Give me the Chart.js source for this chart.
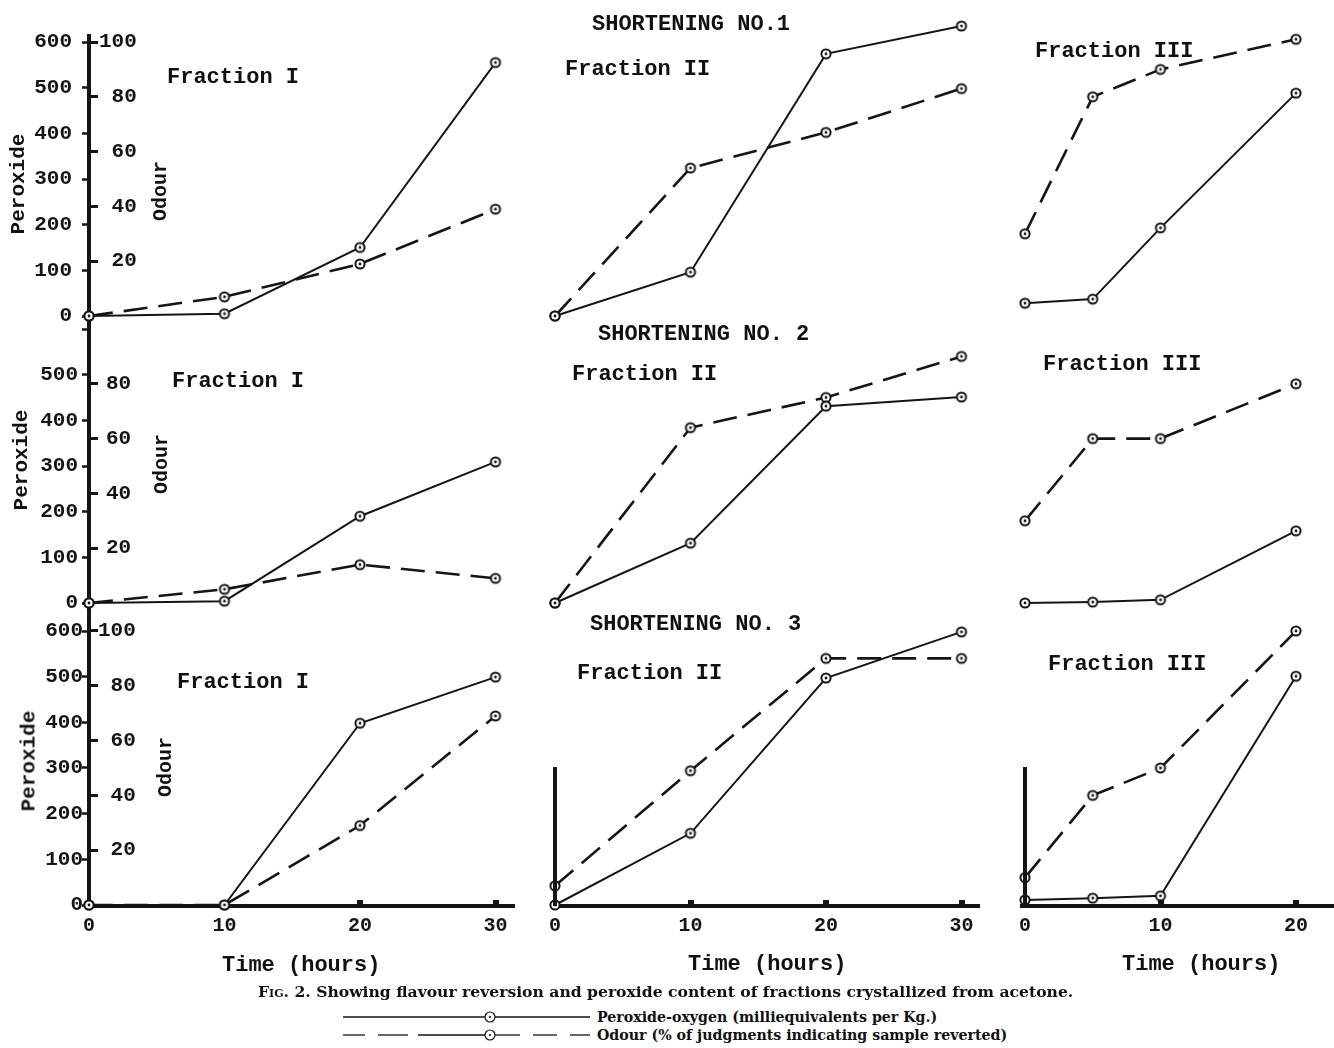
<!DOCTYPE html>
<html><head><meta charset="utf-8">
<script src="https://cdn.jsdelivr.net/npm/chart.js@4.4.0/dist/chart.umd.min.js"></script>
<style>
html,body{margin:0;padding:0;background:#fff;overflow:hidden;width:1334px;height:1048px}
#root{position:relative;width:1334px;height:1048px;background:#fff}
canvas{position:absolute}
.t{position:absolute;white-space:nowrap;font-family:'Liberation Mono',monospace;font-weight:bold;color:#111;line-height:1;transform:translateY(-50%)}
.r{transform:translate(-50%,-50%) rotate(-90deg)}
.cap{position:absolute;white-space:nowrap;font-family:'DejaVu Serif',serif;font-weight:bold;color:#111;line-height:1;transform:translateY(-50%)}
svg{position:absolute}
</style></head>
<body><div id="root"></div>
<script>
// ---------- data ----------
const shorteningTitles = ['SHORTENING NO.1', 'SHORTENING NO. 2', 'SHORTENING NO. 3'];
const fractionTitles = ['Fraction I', 'Fraction II', 'Fraction III'];
const hoursFrac12 = [0, 10, 20, 30];
const hoursFrac3 = [0, 5, 10, 20];
const peroxideTicks = [0, 100, 200, 300, 400, 500, 600];
const odourTicksRow1 = [20, 40, 60, 80, 100];
const odourTicksRow2 = [20, 40, 60, 80];
const odourTicksRow3 = [20, 40, 60, 80, 100];
const timeTicks12 = [0, 10, 20, 30];
const timeTicks3 = [0, 10, 20];

const s1F1Peroxide = [0, 5, 150, 555];
const s1F1Odour    = [0, 7, 19, 39];
const s1F2Peroxide = [0, 96, 574, 635];
const s1F2Odour    = [0, 54, 67, 83];
const s1F3Peroxide = [28, 37, 193, 488];
const s1F3Odour    = [30, 80, 90, 101];

const s2F1Peroxide = [0, 4, 190, 309];
const s2F1Odour    = [0, 5, 14, 9];
const s2F2Peroxide = [0, 131, 431, 451];
const s2F2Odour    = [0, 64, 75, 90];
const s2F3Peroxide = [0, 2, 7, 158];
const s2F3Odour    = [30, 60, 60, 80];

const s3F1Peroxide = [0, 0, 398, 499];
const s3F1Odour    = [0, 0, 29, 69];
const s3F2Peroxide = [0, 157, 497, 598];
const s3F2Odour    = [7, 49, 90, 90];
const s3F3Peroxide = [11, 15, 20, 501];
const s3F3Odour    = [10, 40, 50, 100];

const captionText = 'Showing flavour reversion and peroxide content of fractions crystallized from acetone.';
const legendPeroxide = 'Peroxide-oxygen (milliequivalents per Kg.)';
const legendOdour = 'Odour (% of judgments indicating sample reverted)';

// ---------- layout ----------
const root = document.getElementById('root');
const PPU = 274 / 600;     // px per peroxide unit
const PPH = 13.55;         // px per hour
const INK = '#151515';

const dot = document.createElement('canvas');
dot.width = dot.height = 14;
(function(){
  const c = dot.getContext('2d');
  c.fillStyle = '#fff'; c.beginPath(); c.arc(7,7,4.6,0,Math.PI*2); c.fill();
  c.lineWidth = 2; c.strokeStyle = INK; c.stroke();
  c.fillStyle = INK; c.beginPath(); c.arc(7,7,1.4,0,Math.PI*2); c.fill();
})();

const monoFont = (size) => ({family: "'Liberation Mono', monospace", weight: 'bold', size});

function makeCanvas(cl, ct, w, h) {
  const cv = document.createElement('canvas');
  cv.width = w; cv.height = h;
  cv.style.left = cl + 'px'; cv.style.top = ct + 'px';
  cv.style.width = w + 'px'; cv.style.height = h + 'px';
  root.appendChild(cv);
  return cv;
}

function panel(p) {
  const padLeft = p.padLeft || 0;
  const cl = p.L - p.leftW - padLeft, ct = p.T - p.padTop;
  const w = p.R - cl, h = p.B + p.bottomH - ct;
  const cv = makeCanvas(cl, ct, w, h);
  const yMin = (p.zero - p.B) / PPU, yMax = (p.zero - p.T) / PPU;
  const xMin = (p.L - p.x0) / PPH, xMax = (p.R - p.x0) / PPH;
  const full = p.yAxis === 'full';
  const mk = (arr) => p.times.map((t, i) => ({x: t, y: arr[i]}));
  new Chart(cv, {
    type: 'line',
    data: {datasets: [
      {label: 'Peroxide', data: mk(p.perox), yAxisID: 'y', borderColor: INK, borderWidth: 2,
       pointStyle: dot, pointRadius: 6, tension: 0, fill: false, clip: false},
      {label: 'Odour', data: mk(p.odour), yAxisID: 'y2', borderColor: INK, borderWidth: 2.6,
       borderDash: [24, 11], pointStyle: dot, pointRadius: 6, tension: 0, fill: false, clip: false}
    ]},
    options: {
      responsive: false, animation: false,
      layout: {autoPadding: false, padding: {top: p.padTop, left: padLeft, right: 0, bottom: 0}},
      plugins: {legend: {display: false}, tooltip: {enabled: false}},
      events: [],
      scales: {
        x: {type: 'linear', min: xMin, max: xMax, display: !!p.xAxis,
          afterFit(s){ s.height = p.bottomH; s.paddingLeft = 0; s.paddingRight = 0; },
          afterBuildTicks(s){ s.ticks = p.xTicks.map(v => ({value: v})); },
          border: {display: true, color: INK, width: 4},
          grid: {drawOnChartArea: false, drawTicks: true, tickLength: -6, color: INK, tickColor: INK, tickWidth: 6, lineWidth: 6},
          ticks: {color: INK, font: monoFont(20), padding: 14, maxRotation: 0, autoSkip: false}
        },
        y: {type: 'linear', position: 'left', weight: 0, min: yMin, max: yMax, display: full,
          afterFit(s){ s.width = p.leftW; s.paddingTop = 0; s.paddingBottom = 0; },
          afterBuildTicks(s){ s.ticks = peroxideTicks.map(v => ({value: v})); },
          border: {display: true, color: INK, width: 4},
          grid: {drawOnChartArea: false, drawTicks: true, tickLength: 7, color: INK, tickColor: INK, tickWidth: 2.5},
          ticks: {padding: p.perPad || 0, color: INK, font: monoFont(21),
            callback: v => (p.hide600 && v === 600) ? '' : String(v)}
        },
        y2: {type: 'linear', position: 'left', weight: -1, min: yMin / 6, max: yMax / 6, display: full,
          afterFit(s){ s.width = 0; s.paddingTop = 0; s.paddingBottom = 0; },
          afterBuildTicks(s){ if (p.odTicks) s.ticks = p.odTicks.map(v => ({value: v})); },
          border: {display: false},
          grid: {drawOnChartArea: false, drawTicks: true, tickLength: -9, color: INK, tickColor: INK, tickWidth: 3},
          ticks: {mirror: true, crossAlign: 'far', padding: p.odPad || 0, color: INK, font: monoFont(21)}
        }
      }
    }
  });
}

// short vertical axis line (no labels) for Fractions II and III of Shortening No. 3
function stubAxis(L, T, B, zero) {
  const leftW = 10;
  const cv = makeCanvas(L - leftW, T, leftW + 10, B - T);
  new Chart(cv, {
    type: 'line',
    data: {datasets: []},
    options: {
      responsive: false, animation: false,
      layout: {autoPadding: false, padding: 0},
      plugins: {legend: {display: false}, tooltip: {enabled: false}},
      events: [],
      scales: {
        x: {type: 'linear', display: false, min: 0, max: 1},
        y: {type: 'linear', position: 'left', min: (zero - B) / PPU, max: (zero - T) / PPU, display: true,
          afterFit(s){ s.width = leftW; s.paddingTop = 0; s.paddingBottom = 0; },
          border: {display: true, color: INK, width: 4},
          grid: {drawOnChartArea: false, drawTicks: false},
          ticks: {display: false}
        }
      }
    }
  });
}

const rows = [
  {zero: 316, top: 34, bottom: 322},
  {zero: 603, top: 322, bottom: 612},
  {zero: 905, top: 612, bottom: 906}
];
const X0 = [89, 555, 1025];
const perox = [[s1F1Peroxide, s1F2Peroxide, s1F3Peroxide],[s2F1Peroxide, s2F2Peroxide, s2F3Peroxide],[s3F1Peroxide, s3F2Peroxide, s3F3Peroxide]];
const odour = [[s1F1Odour, s1F2Odour, s1F3Odour],[s2F1Odour, s2F2Odour, s2F3Odour],[s3F1Odour, s3F2Odour, s3F3Odour]];
const odTicks = [odourTicksRow1, odourTicksRow2, odourTicksRow3];
const perPads = [10, 4, -1];
const odPads = [10, 17, 9];

for (let r = 0; r < 3; r++) {
  const g = rows[r];
  panel({L: 89, R: 515, T: g.top, B: g.bottom, leftW: 89, padTop: 0, bottomH: r === 2 ? 77 : 0,
    zero: g.zero, x0: X0[0], yAxis: 'full', xAxis: r === 2, xTicks: timeTicks12,
    odTicks: odTicks[r], perPad: perPads[r], odPad: odPads[r], hide600: r === 1,
    times: hoursFrac12, perox: perox[r][0], odour: odour[r][0]});
  if (r < 2) {
    panel({L: 530, R: 990, T: g.top - 29, B: g.bottom + 8, leftW: 0, padTop: 0, bottomH: 0,
      zero: g.zero, x0: X0[1], yAxis: 'none', xAxis: false, xTicks: timeTicks12,
      times: hoursFrac12, perox: perox[r][1], odour: odour[r][1]});
    panel({L: 1005, R: 1325, T: g.top - 29, B: g.bottom + 8, leftW: 0, padTop: 0, bottomH: 0,
      zero: g.zero, x0: X0[2], yAxis: 'none', xAxis: false, xTicks: timeTicks3,
      times: hoursFrac3, perox: perox[r][2], odour: odour[r][2]});
  } else {
    panel({L: 552, R: 980, T: 612, B: 906, leftW: 0, padLeft: 20, padTop: 0, bottomH: 77,
      zero: g.zero, x0: X0[1], yAxis: 'none', xAxis: true, xTicks: timeTicks12,
      times: hoursFrac12, perox: perox[r][1], odour: odour[r][1]});
    panel({L: 1022, R: 1334, T: 612, B: 906, leftW: 0, padLeft: 20, padTop: 0, bottomH: 77,
      zero: g.zero, x0: X0[2], yAxis: 'none', xAxis: true, xTicks: timeTicks3,
      times: hoursFrac3, perox: perox[r][2], odour: odour[r][2]});
    stubAxis(X0[1], 767, 906, g.zero);
    stubAxis(X0[2], 767, 906, g.zero);
  }
}

// ---------- text ----------
function txt(s, x, y, size, cls) {
  const d = document.createElement('div');
  d.className = cls || 't';
  d.textContent = s;
  d.style.left = x + 'px'; d.style.top = y + 'px'; d.style.fontSize = size + 'px';
  root.appendChild(d);
  return d;
}
const shortPos = [[592, 25], [598, 335], [590, 625]];
const fracPos = [
  [[167, 78], [565, 70], [1035, 52]],
  [[172, 382], [572, 375], [1043, 365]],
  [[177, 683], [577, 674], [1048, 665]]
];
for (let r = 0; r < 3; r++) {
  txt(shorteningTitles[r], shortPos[r][0], shortPos[r][1], 22);
  for (let c = 0; c < 3; c++) txt(fractionTitles[c], fracPos[r][c][0], fracPos[r][c][1], 22);
}
const perLabelPos = [[18, 184], [21, 460], [29, 761]];
const odLabelPos = [[161, 191], [162, 464], [166, 767]];
for (let r = 0; r < 3; r++) {
  const a = txt('Peroxide', perLabelPos[r][0], perLabelPos[r][1], 21); a.className = 't r';
  const b = txt('Odour', odLabelPos[r][0], odLabelPos[r][1], 20); b.className = 't r';
}
txt('Time (hours)', 222, 966, 22);
txt('Time (hours)', 688, 965, 22);
txt('Time (hours)', 1122, 965, 22);

const cap = txt('', 258, 992, 15.6, 'cap');
cap.innerHTML = '<span style="font-variant:small-caps">Fig.</span> 2. ' + captionText;
txt(legendPeroxide, 597, 1017, 14.2, 'cap');
txt(legendOdour, 597, 1035, 14.2, 'cap');

const NS = 'http://www.w3.org/2000/svg';
function legendSample(y, segs) {
  const s = document.createElementNS(NS, 'svg');
  s.setAttribute('width', 260); s.setAttribute('height', 14);
  s.style.left = '340px'; s.style.top = (y - 7) + 'px';
  for (const [a, b] of segs) {
    const l = document.createElementNS(NS, 'line');
    l.setAttribute('x1', a); l.setAttribute('x2', b); l.setAttribute('y1', 7); l.setAttribute('y2', 7);
    l.setAttribute('stroke', INK); l.setAttribute('stroke-width', 1.3);
    s.appendChild(l);
  }
  const c = document.createElementNS(NS, 'circle');
  c.setAttribute('cx', 150); c.setAttribute('cy', 7); c.setAttribute('r', 5);
  c.setAttribute('fill', '#fff'); c.setAttribute('stroke', INK); c.setAttribute('stroke-width', 1.2);
  s.appendChild(c);
  const d = document.createElementNS(NS, 'circle');
  d.setAttribute('cx', 150); d.setAttribute('cy', 7); d.setAttribute('r', 1.1); d.setAttribute('fill', INK);
  s.appendChild(d);
  root.appendChild(s);
}
legendSample(1017, [[3, 145], [155, 250]]);
legendSample(1035, [[3, 25], [38, 68], [78, 145], [155, 180], [193, 217], [230, 250]]);
</script>
</body></html>
